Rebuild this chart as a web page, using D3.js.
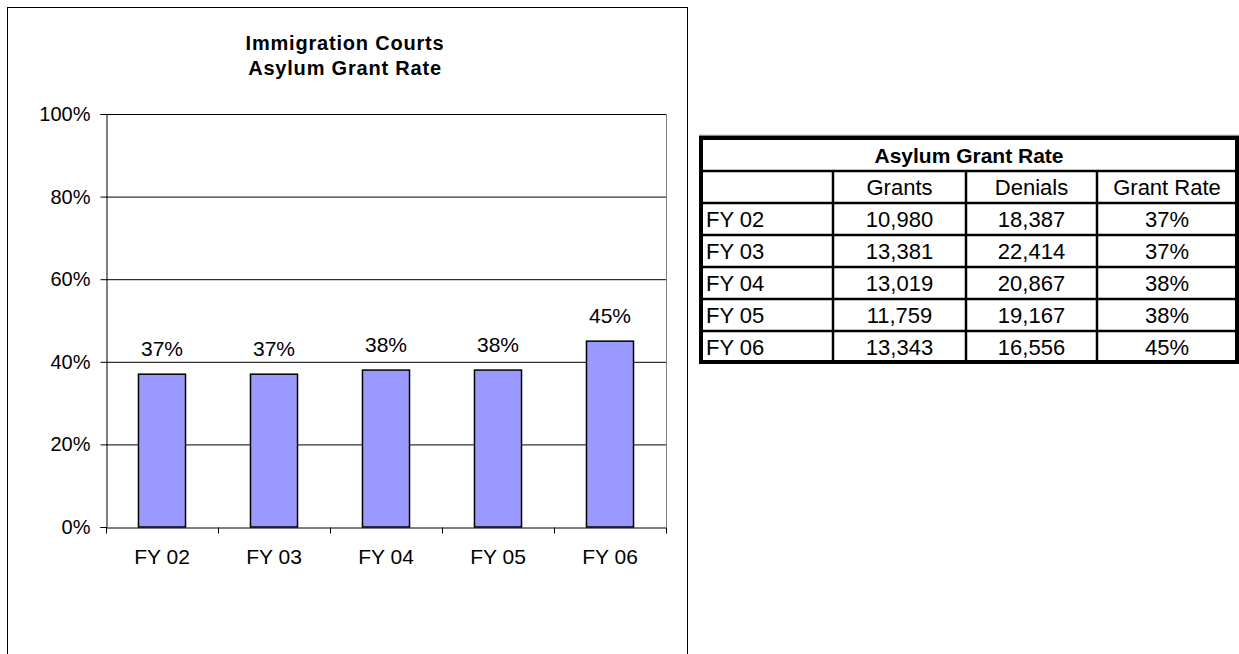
<!DOCTYPE html>
<html lang="en">
<head>
<meta charset="UTF-8">
<title>Asylum Grant Rate</title>
<script src="https://d3js.org/d3.v7.min.js"></script>
<style>
body { margin: 0; background: #fff; font-family: "Liberation Sans", Arial, sans-serif; }
svg { display: block; }
.axis text { font-family: "Liberation Sans", Arial, sans-serif; fill: #000; }
</style>
</head>
<body>
<svg width="1239" height="654"></svg>
<script>
var years = ["FY 02", "FY 03", "FY 04", "FY 05", "FY 06"];
var grants = [10980, 13381, 13019, 11759, 13343];
var denials = [18387, 22414, 20867, 19167, 16556];
var grantRate = [37, 37, 38, 38, 45];
var yTicks = [0, 20, 40, 60, 80, 100];
var tableHeader = ["", "Grants", "Denials", "Grant Rate"];
var chartTitle = ["Immigration Courts", "Asylum Grant Rate"];
var tableTitle = "Asylum Grant Rate";

var svg = d3.select("svg");
var font = "'Liberation Sans', Arial, sans-serif";

// ---- chart frame
svg.append("rect")
    .attr("x", 7.5).attr("y", 7.5)
    .attr("width", 680).attr("height", 700)
    .attr("fill", "#fff").attr("stroke", "#000").attr("stroke-width", 1);

var title = svg.append("text")
    .attr("x", 345).attr("y", 50)
    .attr("text-anchor", "middle")
    .style("font", "bold 20px " + font)
    .style("letter-spacing", "0.8px");
title.selectAll("tspan")
    .data(chartTitle)
    .enter().append("tspan")
    .attr("x", 345)
    .attr("dy", function(d, i) { return i ? 25 : 0; })
    .text(function(d) { return d; });

var plot = { left: 106, right: 666, top: 114, bottom: 527 };

var x = d3.scaleBand()
    .domain(years)
    .range([plot.left, plot.right])
    .paddingInner(0.58)
    .paddingOuter(0.29);

var y = d3.scaleLinear()
    .domain([0, 100])
    .range([plot.bottom, plot.top]);

// gridlines
svg.append("g")
    .selectAll("line")
    .data(yTicks.filter(function(d) { return d > 0 && d < 100; }))
    .enter().append("line")
    .attr("x1", plot.left).attr("x2", plot.right)
    .attr("y1", function(d) { return y(d) + 0.5; })
    .attr("y2", function(d) { return y(d) + 0.5; })
    .attr("stroke", "#000");

// plot area top + right edge
svg.append("line")
    .attr("x1", plot.left).attr("x2", plot.right)
    .attr("y1", plot.top + 0.5).attr("y2", plot.top + 0.5)
    .attr("stroke", "#000");
svg.append("line")
    .attr("x1", plot.right + 0.5).attr("x2", plot.right + 0.5)
    .attr("y1", plot.top).attr("y2", plot.bottom)
    .attr("stroke", "#808080");

// bars
svg.append("g")
    .selectAll("rect")
    .data(grantRate)
    .enter().append("rect")
    .attr("x", function(d, i) { return x(years[i]); })
    .attr("y", function(d) { return y(d); })
    .attr("width", x.bandwidth())
    .attr("height", function(d) { return y(0) - y(d); })
    .attr("fill", "#9999ff")
    .attr("stroke", "#000")
    .attr("stroke-width", 1.5);

// bar labels
svg.append("g")
    .selectAll("text")
    .data(grantRate)
    .enter().append("text")
    .attr("x", function(d, i) { return x(years[i]) + x.bandwidth() / 2; })
    .attr("y", function(d) { return y(d) - 18; })
    .attr("text-anchor", "middle")
    .style("font", "21px " + font)
    .text(function(d) { return d + "%"; });

// y axis
var yAxis = svg.append("g")
    .attr("class", "axis")
    .attr("transform", "translate(" + (plot.left + 0.5) + ",0)")
    .call(d3.axisLeft(y).tickValues(yTicks).tickSize(6).tickPadding(10)
        .tickFormat(function(d) { return d + "%"; }));
yAxis.select(".domain").attr("stroke", "#000");
yAxis.selectAll("text").style("font-size", "20px");

// x axis: labels at band centres, ticks at band edges
var xAxis = svg.append("g")
    .attr("class", "axis")
    .attr("transform", "translate(0," + (plot.bottom + 0.5) + ")")
    .call(d3.axisBottom(x).tickSize(0).tickPadding(22).tickSizeOuter(0));
xAxis.select(".domain").attr("stroke", "#000");
xAxis.selectAll("text").style("font-size", "21px");
xAxis.selectAll(".edge")
    .data(d3.range(years.length + 1))
    .enter().append("line")
    .attr("class", "edge")
    .attr("x1", function(i) { return plot.left + i * x.step() + 0.5; })
    .attr("x2", function(i) { return plot.left + i * x.step() + 0.5; })
    .attr("y1", 0).attr("y2", 6)
    .attr("stroke", "#000");

// ---- table
var tbl = { left: 701, right: 1237, top: 139, rowH: 32 };
var colEdges = [tbl.left, 833, 966, 1097, tbl.right];
var nRows = 2 + years.length;
var tblBottom = tbl.top + nRows * tbl.rowH - 1;

var rows = years.map(function(d, i) {
    return [d, d3.format(",")(grants[i]), d3.format(",")(denials[i]), grantRate[i] + "%"];
});

var t = svg.append("g");

// horizontal rules
t.selectAll(".hr")
    .data(d3.range(1, nRows))
    .enter().append("line")
    .attr("class", "hr")
    .attr("x1", tbl.left).attr("x2", tbl.right)
    .attr("y1", function(i) { return tbl.top + i * tbl.rowH; })
    .attr("y2", function(i) { return tbl.top + i * tbl.rowH; })
    .attr("stroke", "#000").attr("stroke-width", 2.5);

// vertical rules (below title row)
t.selectAll(".vr")
    .data(colEdges.slice(1, 4))
    .enter().append("line")
    .attr("class", "vr")
    .attr("x1", function(d) { return d; }).attr("x2", function(d) { return d; })
    .attr("y1", tbl.top + tbl.rowH).attr("y2", tblBottom)
    .attr("stroke", "#000").attr("stroke-width", 2.5);

// outer border
t.append("line")
    .attr("x1", tbl.left - 2).attr("x2", tbl.right + 2)
    .attr("y1", tbl.top - 3.5).attr("y2", tbl.top - 3.5)
    .attr("stroke", "#888").attr("stroke-width", 1.5);
t.append("rect")
    .attr("x", tbl.left).attr("y", tbl.top - 1)
    .attr("width", tbl.right - tbl.left).attr("height", tblBottom - tbl.top + 1)
    .attr("fill", "none").attr("stroke", "#000").attr("stroke-width", 4);

t.append("text")
    .attr("x", (tbl.left + tbl.right) / 2)
    .attr("y", tbl.top + tbl.rowH / 2 + 8)
    .attr("text-anchor", "middle")
    .style("font", "bold 21px " + font)
    .text(tableTitle);

var bodyRows = [tableHeader].concat(rows);
var rowG = t.selectAll(".row")
    .data(bodyRows)
    .enter().append("g")
    .attr("class", "row")
    .attr("transform", function(d, i) {
        return "translate(0," + (tbl.top + (i + 1) * tbl.rowH + tbl.rowH / 2 + 8) + ")";
    });

rowG.selectAll("text")
    .data(function(d) { return d; })
    .enter().append("text")
    .attr("x", function(d, j) {
        return j === 0 ? colEdges[0] + 5 : (colEdges[j] + colEdges[j + 1]) / 2;
    })
    .attr("text-anchor", function(d, j) { return j === 0 ? "start" : "middle"; })
    .style("font", "22px " + font)
    .text(function(d) { return d; });
</script>
</body>
</html>
